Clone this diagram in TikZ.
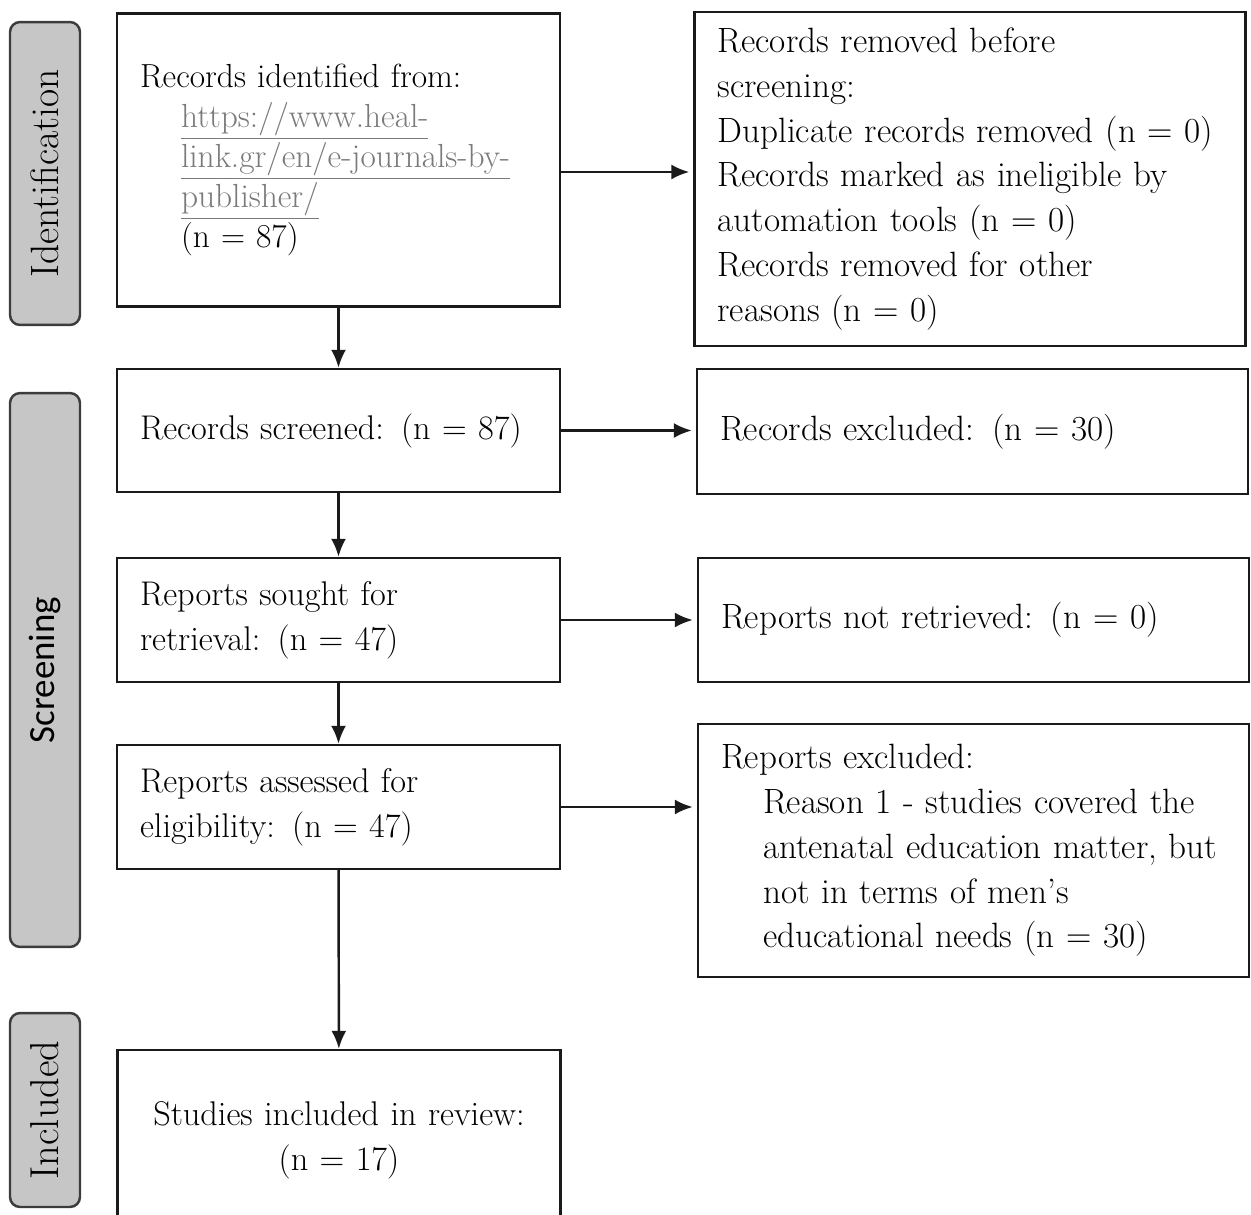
\documentclass[tikz,border=0pt]{standalone}
\usepackage{fontspec}
\newfontfamily\stagesans{Carlito}
\usetikzlibrary{arrows.meta,calc}
\definecolor{stagegray}{HTML}{C6C6C6}
\definecolor{urlgray}{HTML}{7A7A7A}
\definecolor{inkgray}{HTML}{1A1A1A}
\newcommand{\urltext}[1]{\textcolor{urlgray}{\underline{#1}}}

\begin{document}
\begin{tikzpicture}[x=0.02cm, y=-0.02cm,
      every node/.style={text=black},
      flowbox/.style={
            draw=inkgray, line width=1.4pt,
            inner xsep=0.46cm, align=left,
            font=\fontsize{19.5}{25.5}\selectfont
         },
      leftbox/.style={flowbox, minimum width=8.86cm, text width=7.94cm},
      rightbox/.style={flowbox, minimum width=11.02cm, text width=10.1cm,
            font=\fontsize{20}{25.5}\selectfont},
      stage/.style={
            draw=inkgray!85, fill=stagegray, line width=1.4pt,
            rounded corners=0.2cm, rotate=90,
            minimum height=1.4cm, inner sep=0pt
         },
      flow/.style={line width=1.4pt, draw=inkgray, -{Latex[length=0.36cm,width=0.3cm]}}
   ]
   \clip (0,0) rectangle (1251,1214);

   % stage labels
   \node[stage, minimum width=6.06cm, font=\fontsize{22.5}{26}\selectfont] (idlabel) at (45,173.5) {Identification};
   \node[stage, minimum width=11.08cm, font=\stagesans\fontsize{21}{25}\selectfont] (scrlabel) at (45,670) {Screening};
   \node[stage, minimum width=3.88cm, font=\fontsize{23}{26}\selectfont] (inclabel) at (45,1110) {Included};

   % left column
   \node[leftbox, minimum height=5.86cm, font=\fontsize{19}{22.7}\selectfont] (found) at (338.5,160) {Records identified from:\\
      \hspace*{0.82cm}\urltext{https://www.heal-}\\
      \hspace*{0.82cm}\urltext{link.gr/en/e-journals-by-}\\
      \hspace*{0.82cm}\urltext{publisher/}\\
      \hspace*{0.82cm}(n = 87)};
   \node[leftbox, minimum height=2.46cm] (screened) at (338.5,430.5) {Records screened: (n = 87)};
   \node[leftbox, minimum height=2.48cm] (sought) at (338.5,620) {Reports sought for\\ retrieval: (n = 47)};
   \node[leftbox, minimum height=2.48cm] (assessed) at (338.5,807) {Reports assessed for\\ eligibility: (n = 47)};
   \node[leftbox, align=center, minimum height=3.6cm] (included) at (339,1140) {Studies included in review:\\ (n = 17)};

   % right column
   \node[rightbox, minimum height=6.68cm] (removed) at (970,179) {Records removed before\\
      screening:\\
      Duplicate records removed (n = 0)\\
      Records marked as ineligible by\\
      automation tools (n = 0)\\
      Records removed for other\\
      reasons (n = 0)};
   \node[rightbox, minimum height=2.5cm] (excl) at (972.5,431.5) {Records excluded: (n = 30)};
   \node[rightbox, minimum height=2.48cm] (notret) at (973.5,620) {Reports not retrieved: (n = 0)};
   \node[rightbox, minimum height=5.06cm] (rexcl) at (973.5,850.5) {Reports excluded:\\
      \hspace*{0.84cm}Reason 1 - studies covered the\\
      \hspace*{0.84cm}antenatal education matter, but\\
      \hspace*{0.84cm}not in terms of men's\\
      \hspace*{0.84cm}educational needs (n = 30)};

   % arrows down
   \draw[flow] (found) -- (screened);
   \draw[flow] (screened) -- (sought);
   \draw[flow] (sought) -- (assessed);
   \draw[flow] (assessed) -- (included);

   % arrows across
   \coordinate (foundout) at ($(found.east)+(0,12)$);
   \draw[flow, shorten >=0.08cm] (foundout) -- (foundout -| removed.west);
   \draw[flow, shorten >=0.08cm] (screened.east) -- (screened.east -| excl.west);
   \draw[flow, shorten >=0.08cm] (sought.east) -- (sought.east -| notret.west);
   \draw[flow, shorten >=0.08cm] (assessed.east) -- (assessed.east -| rexcl.west);
\end{tikzpicture}
\end{document}
